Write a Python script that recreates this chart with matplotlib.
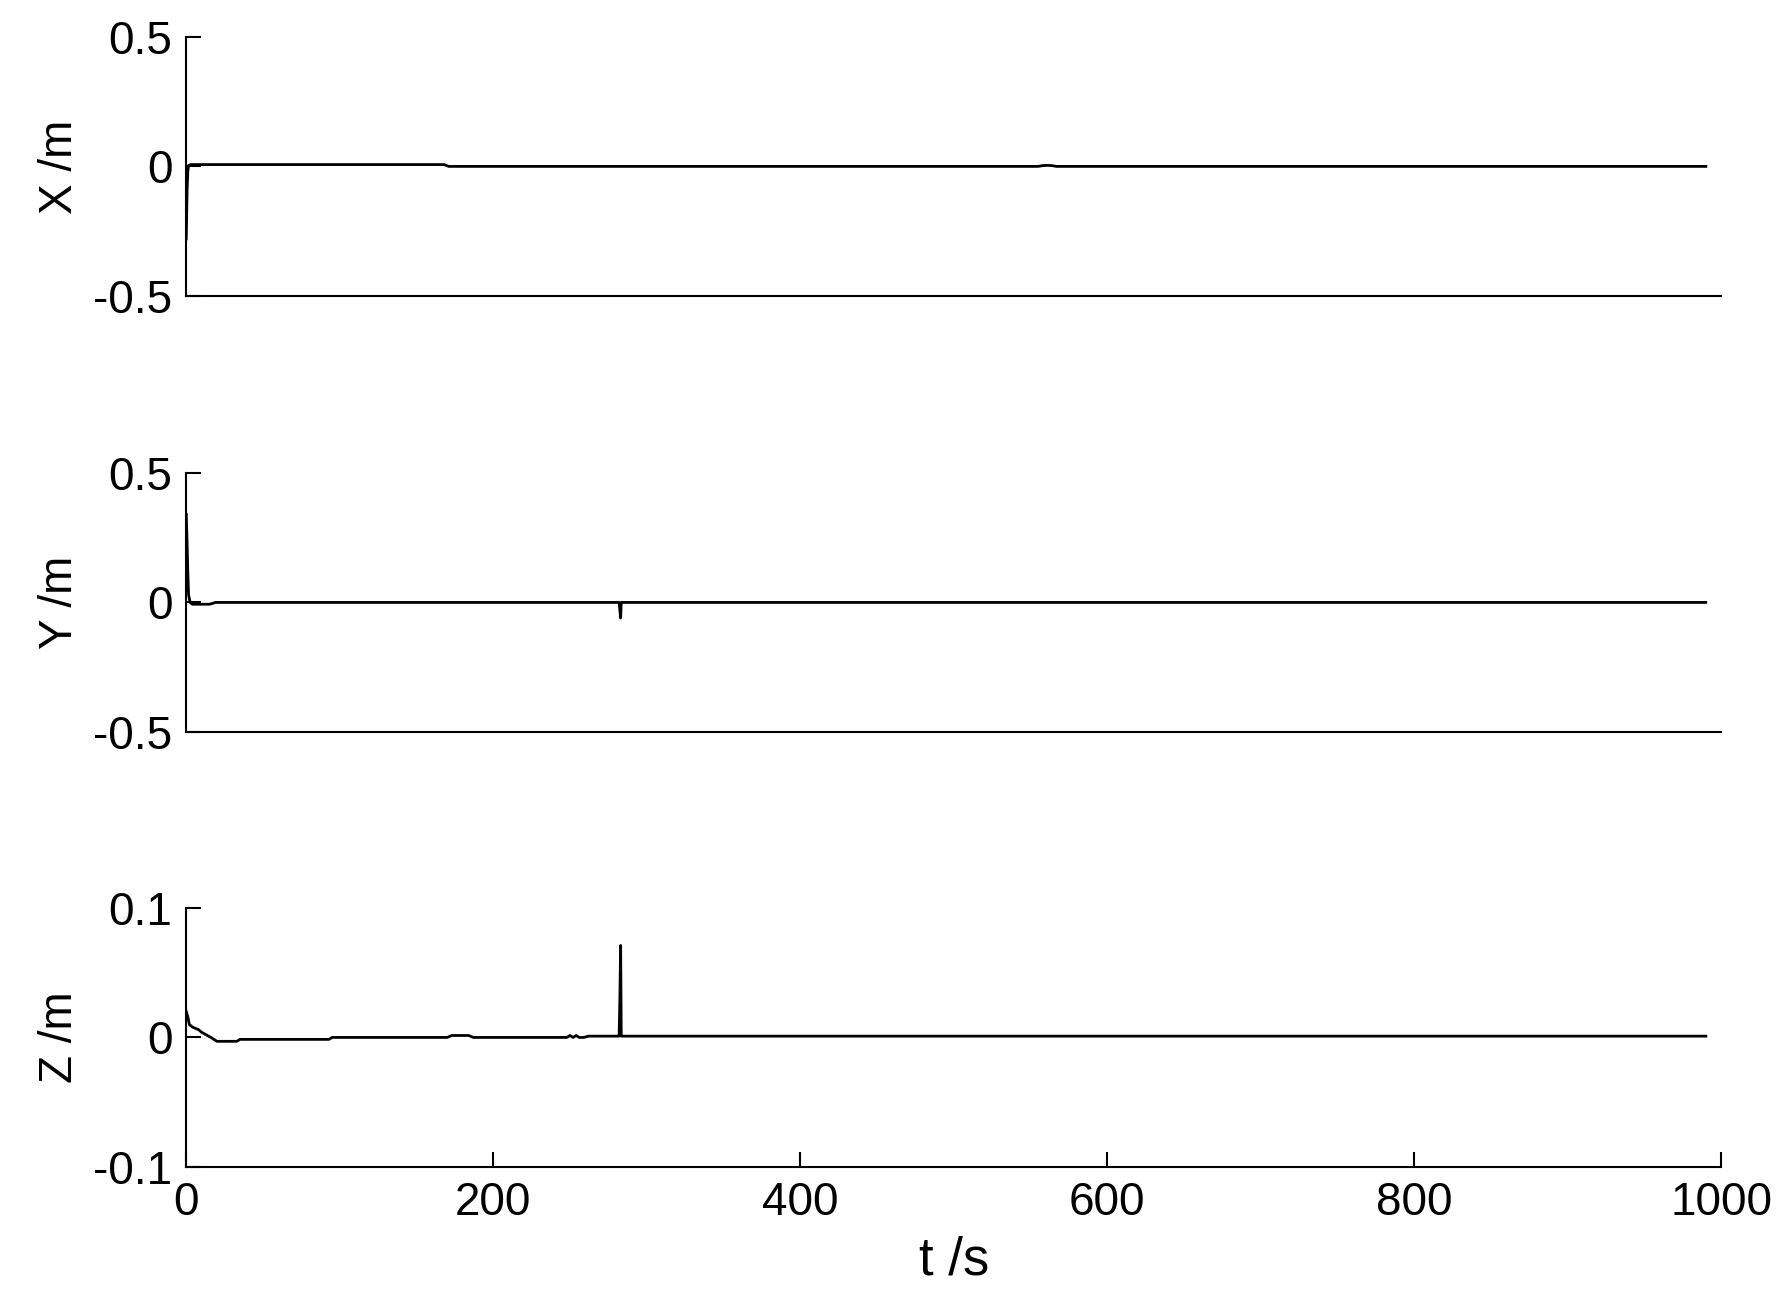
import numpy as np
import matplotlib
matplotlib.use("Agg")
import matplotlib.pyplot as plt

plt.rcParams['font.family'] = ['Liberation Sans', 'DejaVu Sans']

# values (piecewise, t in s, position in m)
t_x = [0, 0.5, 1.0, 1.5, 3, 168, 171, 555, 558, 561, 564, 567, 990]
x_m = [-0.28, -0.10, -0.02, 0.004, 0.007, 0.007, 0.0, 0.0, 0.003, 0.004, 0.003, 0.0, 0.0]

t_y = [0, 0.5, 1.0, 1.5, 2.5, 4, 15, 17, 19, 282, 282.5, 283, 283.4, 990]
y_m = [0.34, 0.24, 0.12, 0.03, 0.0, -0.007, -0.007, -0.004, 0.0, 0.0, -0.03, -0.06, 0.0, 0.0]

t_z = [0, 1, 2, 4, 8, 10, 13, 16, 20, 33, 35, 93, 95, 170, 173, 184, 187,
       248, 250, 252, 254, 256, 259, 262, 282, 282.5, 283, 283.4, 990]
z_m = [0.02, 0.016, 0.01, 0.008, 0.006, 0.004, 0.002, 0.0, -0.003, -0.003, -0.0015, -0.0015, 0.0,
       0.0, 0.0015, 0.0015, 0.0, 0.0, 0.0015, 0.0, 0.0015, 0.0, 0.0, 0.001, 0.001, 0.03, 0.071, 0.001, 0.001]

ylims = [(-0.5, 0.5), (-0.5, 0.5), (-0.1, 0.1)]
yticks = [[-0.5, 0, 0.5], [-0.5, 0, 0.5], [-0.1, 0, 0.1]]
ylabels = ['X /m', 'Y /m', 'Z /m']
xticks = [0, 200, 400, 600, 800, 1000]

fig = plt.figure(figsize=(17.91, 13.02), dpi=100)
left, width = 0.104, 0.857
bottoms = [0.7727, 0.4378, 0.1037]
height = 0.199

series = [(t_x, x_m), (t_y, y_m), (t_z, z_m)]
for i, (t, v) in enumerate(series):
    ax = fig.add_axes([left, bottoms[i], width, height])
    ax.plot(t, v, color='black', lw=2)
    ax.set_xlim(0, 1000)
    ax.set_ylim(*ylims[i])
    ax.set_yticks(yticks[i])
    ax.set_yticklabels(['%g' % y for y in yticks[i]])
    ax.spines['top'].set_visible(False)
    ax.spines['right'].set_visible(False)
    ax.spines['left'].set_linewidth(1.5)
    ax.spines['bottom'].set_linewidth(1.5)
    ax.tick_params(direction='in', length=11, width=1.5, labelsize=33, pad=10)
    ax.set_ylabel(ylabels[i], fontsize=33, labelpad=8)
    if i < 2:
        ax.set_xticks([])
    else:
        ax.set_xticks(xticks)
        ax.set_xlabel('t /s', fontsize=38, labelpad=8)

fig.savefig('out.png', dpi=100)
